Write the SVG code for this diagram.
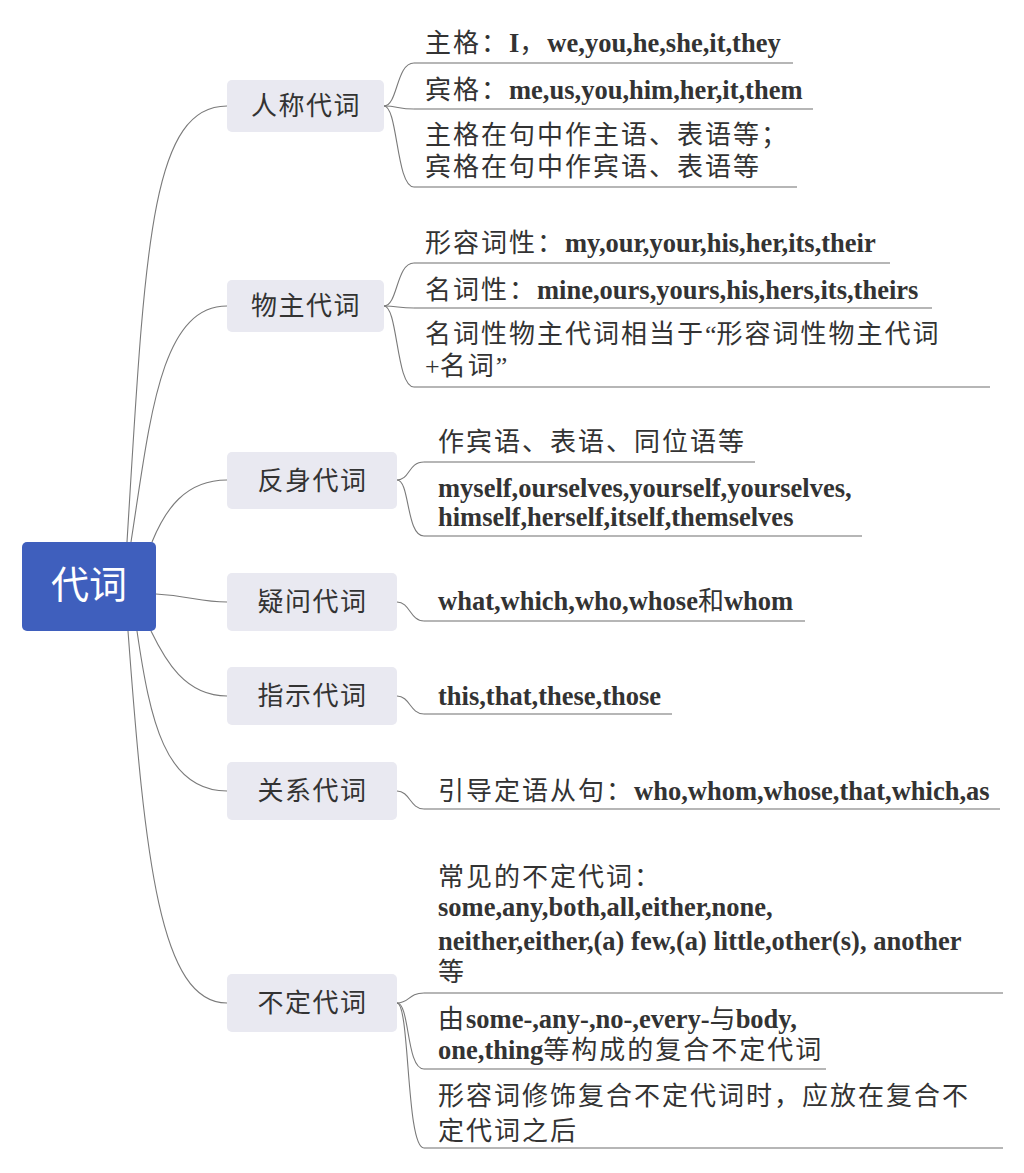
<svg xmlns="http://www.w3.org/2000/svg" width="1024" height="1173" viewBox="0 0 1024 1173">
<style>
.bg{fill:#ffffff}
.root{fill:#3f5fbd}
.rootlbl{font-family:"Noto Sans CJK SC",sans-serif;font-size:38px;fill:#ffffff;text-anchor:middle}
.node{fill:#e9e9f1}
.lbl{font-family:"Noto Sans CJK SC",sans-serif;font-size:26px;letter-spacing:1.5px;fill:#333333;text-anchor:middle}
.t{fill:#333333}
.zh{font-family:"Noto Sans CJK SC",sans-serif;font-size:26px;letter-spacing:2px;font-weight:normal}
.zi{font-family:"Noto Sans CJK SC",sans-serif;font-size:26px;letter-spacing:0;font-weight:normal}
.en{font-family:"Liberation Serif",serif;font-size:26.5px;font-weight:bold;letter-spacing:0}
.q{font-family:"Liberation Serif",serif;font-size:26px;font-weight:normal;letter-spacing:0}
.c{fill:none;stroke:#7a7a7a;stroke-width:1.1}
.ul{stroke:#6e6e6e;stroke-width:1.1}
</style>
<rect class="bg" x="0" y="0" width="1024" height="1173"/>

<g id="connectors">
  <path class="c" d="M127 542 C145 250,150 106,227 106"/>
  <path class="c" d="M131 542 C150 420,160 306,227 306"/>
  <path class="c" d="M152 542 C165 510,185 480,227 480"/>
  <path class="c" d="M156 594 C190 596,200 602,227 602"/>
  <path class="c" d="M151 631 C165 660,185 696,227 696"/>
  <path class="c" d="M137 631 C150 720,165 791,227 791"/>
  <path class="c" d="M128 631 C145 860,160 1003,227 1003"/>

  <path class="c" d="M384 106 C398 106,396 63,414 63"/>
  <path class="c" d="M384 106 C398 106,398 109,414 109"/>
  <path class="c" d="M384 106 C398 106,396 187,414 187"/>

  <path class="c" d="M384 306 C398 306,396 263,414 263"/>
  <path class="c" d="M384 306 C398 306,398 308,414 308"/>
  <path class="c" d="M384 306 C398 306,396 387,414 387"/>

  <path class="c" d="M397 480 C410 480,408 462,424 462"/>
  <path class="c" d="M397 480 C410 480,406 536,424 536"/>

  <path class="c" d="M397 602 C410 602,410 621,424 621"/>
  <path class="c" d="M397 696 C410 696,410 714,424 714"/>
  <path class="c" d="M397 791 C410 791,410 809,424 809"/>

  <path class="c" d="M397 1003 C410 1003,408 993,424 993"/>
  <path class="c" d="M397 1003 C410 1003,406 1069,424 1069"/>
  <path class="c" d="M397 1003 C410 1003,406 1148,424 1148"/>
</g>

<g id="root">
  <rect class="root" x="22" y="542" width="134" height="89" rx="5"/>
  <text class="rootlbl" x="89" y="598">代词</text>
</g>

<g id="n-renchen">
  <rect class="node" x="227" y="80" width="157" height="52" rx="5"/>
  <text class="lbl" x="306" y="115">人称代词</text>
</g>
<g id="n-wuzhu">
  <rect class="node" x="227" y="280" width="157" height="52" rx="5"/>
  <text class="lbl" x="306" y="315">物主代词</text>
</g>
<g id="n-fanshen">
  <rect class="node" x="227" y="452" width="170" height="57" rx="5"/>
  <text class="lbl" x="312.5" y="490">反身代词</text>
</g>
<g id="n-yiwen">
  <rect class="node" x="227" y="573" width="170" height="58" rx="5"/>
  <text class="lbl" x="312.5" y="611">疑问代词</text>
</g>
<g id="n-zhishi">
  <rect class="node" x="227" y="667" width="170" height="58" rx="5"/>
  <text class="lbl" x="312.5" y="705">指示代词</text>
</g>
<g id="n-guanxi">
  <rect class="node" x="227" y="762" width="170" height="58" rx="5"/>
  <text class="lbl" x="312.5" y="800">关系代词</text>
</g>
<g id="n-buding">
  <rect class="node" x="227" y="974" width="170" height="58" rx="5"/>
  <text class="lbl" x="312.5" y="1012">不定代词</text>
</g>

<g id="l-a1">
  <text class="t" x="425" y="52"><tspan class="zh">主格：</tspan><tspan class="en">I</tspan><tspan class="zh">，</tspan><tspan class="en">we,you,he,she,it,they</tspan></text>
  <line class="ul" x1="414" y1="63" x2="793" y2="63"/>
</g>
<g id="l-a2">
  <text class="t" x="425" y="99"><tspan class="zh">宾格：</tspan><tspan class="en">me,us,you,him,her,it,them</tspan></text>
  <line class="ul" x1="414" y1="109" x2="813" y2="109"/>
</g>
<g id="l-a3">
  <text class="t zh" x="425" y="144">主格在句中作主语、表语等；</text>
  <text class="t zh" x="425" y="176">宾格在句中作宾语、表语等</text>
  <line class="ul" x1="414" y1="187" x2="797" y2="187"/>
</g>

<g id="l-b1">
  <text class="t" x="425" y="252"><tspan class="zh">形容词性：</tspan><tspan class="en">my,our,your,his,her,its,their</tspan></text>
  <line class="ul" x1="414" y1="263" x2="890" y2="263"/>
</g>
<g id="l-b2">
  <text class="t" x="425" y="299"><tspan class="zh">名词性：</tspan><tspan class="en">mine,ours,yours,his,hers,its,theirs</tspan></text>
  <line class="ul" x1="414" y1="308" x2="932" y2="308"/>
</g>
<g id="l-b3">
  <text class="t" x="425" y="343"><tspan class="zh">名词性物主代词相当于</tspan><tspan class="q">“</tspan><tspan class="zh">形容词性物主代词</tspan></text>
  <text class="t" x="425" y="375"><tspan class="q">+</tspan><tspan class="zh">名词</tspan><tspan class="q">”</tspan></text>
  <line class="ul" x1="414" y1="387" x2="990" y2="387"/>
</g>

<g id="l-c1">
  <text class="t zh" x="438" y="451">作宾语、表语、同位语等</text>
  <line class="ul" x1="424" y1="462" x2="755" y2="462"/>
</g>
<g id="l-c2">
  <text class="t en" x="438" y="497">myself,ourselves,yourself,yourselves,</text>
  <text class="t en" x="438" y="526">himself,herself,itself,themselves</text>
  <line class="ul" x1="424" y1="536" x2="862" y2="536"/>
</g>

<g id="l-d">
  <text class="t" x="438" y="610"><tspan class="en">what,which,who,whose</tspan><tspan class="zi">和</tspan><tspan class="en">whom</tspan></text>
  <line class="ul" x1="424" y1="621" x2="805" y2="621"/>
</g>

<g id="l-e">
  <text class="t en" x="438" y="705">this,that,these,those</text>
  <line class="ul" x1="424" y1="714" x2="672" y2="714"/>
</g>

<g id="l-f">
  <text class="t" x="438" y="800"><tspan class="zh">引导定语从句：</tspan><tspan class="en">who,whom,whose,that,which,as</tspan></text>
  <line class="ul" x1="424" y1="809" x2="1000" y2="809"/>
</g>

<g id="l-g1">
  <text class="t zh" x="438" y="886">常见的不定代词：</text>
  <text class="t en" x="438" y="916">some,any,both,all,either,none,</text>
  <text class="t en" x="438" y="950">neither,either,(a) few,(a) little,other(s), another</text>
  <text class="t zh" x="438" y="981">等</text>
  <line class="ul" x1="424" y1="993" x2="1003" y2="993"/>
</g>
<g id="l-g2">
  <text class="t" x="438" y="1028"><tspan class="zh">由</tspan><tspan class="en">some-,any-,no-,every-</tspan><tspan class="zi">与</tspan><tspan class="en">body,</tspan></text>
  <text class="t" x="438" y="1059"><tspan class="en">one,thing</tspan><tspan class="zh">等构成的复合不定代词</tspan></text>
  <line class="ul" x1="424" y1="1069" x2="826" y2="1069"/>
</g>
<g id="l-g3">
  <text class="t zh" x="438" y="1105">形容词修饰复合不定代词时，应放在复合不</text>
  <text class="t zh" x="438" y="1140">定代词之后</text>
  <line class="ul" x1="424" y1="1148" x2="1003" y2="1148"/>
</g>
</svg>
